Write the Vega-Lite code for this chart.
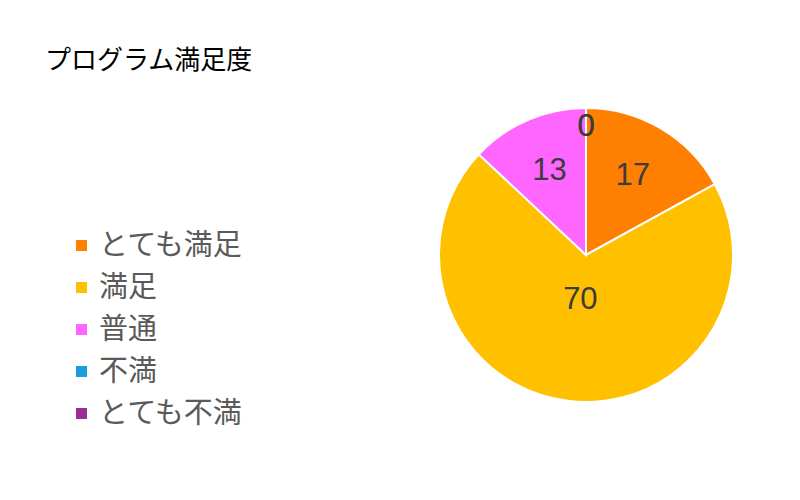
{
  "$schema": "https://vega.github.io/schema/vega-lite/v6.json",
  "width": 428,
  "height": 490,
  "padding": {"left": 372, "top": 10, "right": 0, "bottom": 0},
  "autosize": {"type": "none"},
  "background": "white",
  "title": {
    "text": "プログラム満足度",
    "anchor": "start",
    "frame": "group",
    "dx": -327,
    "dy": 68,
    "fontSize": 26,
    "fontWeight": "normal",
    "font": "Noto Sans CJK JP",
    "color": "#000000"
  },
  "data": {
    "values": [
      {"category": "とても満足", "value": 17, "order": 1},
      {"category": "満足", "value": 70, "order": 2},
      {"category": "普通", "value": 13, "order": 3},
      {"category": "不満", "value": 0, "order": 4},
      {"category": "とても不満", "value": 0, "order": 5}
    ]
  },
  "encoding": {
    "theta": {"field": "value", "type": "quantitative", "stack": true},
    "order": {"field": "order", "type": "ordinal"}
  },
  "layer": [
    {
      "mark": {"type": "arc", "radius": 147, "stroke": "white", "strokeWidth": 2},
      "encoding": {
        "color": {
          "field": "category",
          "type": "nominal",
          "scale": {
            "domain": ["とても満足", "満足", "普通", "不満", "とても不満"],
            "range": ["#FF7F00", "#FFC000", "#FF66FF", "#1A9DDB", "#9B2D96"]
          },
          "legend": {
            "title": null,
            "orient": "none",
            "legendX": -305,
            "legendY": 221,
            "symbolType": "square",
            "symbolSize": 121,
            "symbolStrokeWidth": 0,
            "labelFontSize": 29,
            "labelFont": "Noto Sans CJK JP",
            "labelColor": "#5a5a5a",
            "labelOffset": 3,
            "rowPadding": 12,
            "labelLimit": 300
          }
        }
      }
    },
    {
      "mark": {"type": "text", "radius": 128, "fontSize": 31, "font": "Liberation Sans", "fill": "#3c3c3c"},
      "encoding": {
        "text": {"field": "value", "type": "quantitative"},
        "opacity": {"condition": {"test": "datum.value == 0", "value": 1}, "value": 0}
      }
    },
    {
      "mark": {"type": "text", "radius": 45, "fontSize": 31, "font": "Liberation Sans", "fill": "#3c3c3c"},
      "encoding": {
        "text": {"field": "value", "type": "quantitative"},
        "opacity": {"condition": {"test": "datum.value > 50", "value": 1}, "value": 0}
      }
    },
    {
      "mark": {"type": "text", "radius": 92, "fontSize": 31, "font": "Liberation Sans", "fill": "#3c3c3c"},
      "encoding": {
        "text": {"field": "value", "type": "quantitative"},
        "opacity": {"condition": {"test": "datum.value > 0 && datum.value <= 50", "value": 1}, "value": 0}
      }
    }
  ],
  "config": {"view": {"stroke": null}}
}
